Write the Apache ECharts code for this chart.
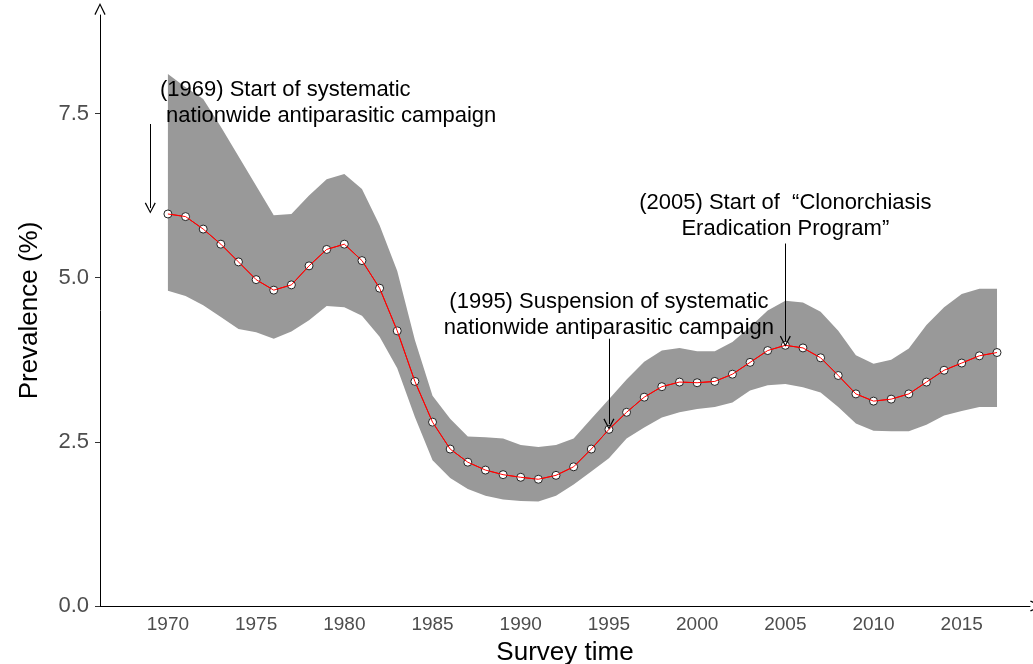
<!DOCTYPE html>
<html lang="en">
<head>
<meta charset="UTF-8">
<title>Prevalence</title>
<script src="https://cdn.jsdelivr.net/npm/echarts@6/dist/echarts.min.js"></script>
<style>
  html, body { margin: 0; padding: 0; background: #fff; }
  #main { width: 1033px; height: 664px; }
</style>
</head>
<body>
<div id="main"></div>
<script>
// survey years and estimates
var years = [1970, 1971, 1972, 1973, 1974, 1975, 1976, 1977, 1978, 1979,
             1980, 1981, 1982, 1983, 1984, 1985, 1986, 1987, 1988, 1989,
             1990, 1991, 1992, 1993, 1994, 1995, 1996, 1997, 1998, 1999,
             2000, 2001, 2002, 2003, 2004, 2005, 2006, 2007, 2008, 2009,
             2010, 2011, 2012, 2013, 2014, 2015, 2016, 2017];
var prevalence = [5.97, 5.93, 5.74, 5.51, 5.24, 4.97, 4.81, 4.89, 5.18, 5.43,
                  5.51, 5.26, 4.84, 4.19, 3.42, 2.80, 2.39, 2.19, 2.07, 2.00,
                  1.96, 1.93, 1.99, 2.12, 2.39, 2.69, 2.95, 3.18, 3.34, 3.41,
                  3.40, 3.42, 3.53, 3.71, 3.89, 3.97, 3.93, 3.78, 3.51, 3.23,
                  3.12, 3.15, 3.23, 3.41, 3.59, 3.70, 3.81, 3.86];
var upperCI = [8.10, 7.90, 7.72, 7.30, 6.85, 6.40, 5.95, 5.97, 6.25, 6.50,
               6.58, 6.35, 5.80, 5.10, 4.05, 3.20, 2.85, 2.58, 2.57, 2.55,
               2.45, 2.42, 2.45, 2.55, 2.85, 3.15, 3.45, 3.72, 3.89, 3.93,
               3.88, 3.88, 4.02, 4.25, 4.50, 4.65, 4.62, 4.48, 4.19, 3.82,
               3.69, 3.75, 3.92, 4.28, 4.55, 4.75, 4.83, 4.83];
var lowerCI = [4.80, 4.72, 4.58, 4.40, 4.22, 4.17, 4.07, 4.18, 4.35, 4.57,
               4.55, 4.42, 4.10, 3.62, 2.88, 2.22, 1.95, 1.78, 1.68, 1.62,
               1.60, 1.59, 1.68, 1.85, 2.05, 2.25, 2.55, 2.72, 2.87, 2.95,
               3.00, 3.03, 3.10, 3.28, 3.36, 3.38, 3.33, 3.25, 3.03, 2.78,
               2.67, 2.66, 2.66, 2.76, 2.90, 2.97, 3.03, 3.03];
var xTicks = [1970, 1975, 1980, 1985, 1990, 1995, 2000, 2005, 2010, 2015];
var yTicks = [0, 2.5, 5, 7.5];

// annotation events: [year, arrow start, arrow end]
var eventArrows = [[1969, 7.34, 6.06], [1995, 4.07, 2.77], [2005, 5.52, 4.03]];

var chevron = 'path://M5,0 L10,10 L9,10.7 L5,2.2 L1,10.7 L0,10 Z';
var font = 'Liberation Sans';

var myChart = echarts.init(document.getElementById('main'));

var bandData = years.map(function (y, i) { return [y, lowerCI[i], upperCI[i]]; });
var midData = years.map(function (y, i) { return [y, prevalence[i]]; });

// whole ribbon drawn as one polygon: upper edge forward, lower edge back
function renderBand(params, api) {
    if (params.dataIndex !== 0) return null;
    var n = years.length;
    var pts = [];
    for (var j = 0; j < n; j++) {
        pts.push(api.coord([api.value(0, j), api.value(2, j)]));
    }
    for (var k = n - 1; k >= 0; k--) {
        pts.push(api.coord([api.value(0, k), api.value(1, k)]));
    }
    return {
        type: 'polygon',
        shape: { points: pts },
        style: { fill: '#999999', stroke: null }
    };
}

var option = {
    animation: false,
    textStyle: { fontFamily: font },
    grid: { left: 100, right: 3, top: 15, bottom: 58, outerBoundsMode: 'none', containLabel: false },
    xAxis: {
        type: 'value',
        min: 1966.15,
        max: 2018.87,
        name: 'Survey time',
        nameLocation: 'middle',
        nameGap: 34,
        nameTextStyle: { fontSize: 26, color: '#000', fontFamily: font },
        axisLine: {
            show: true,
            lineStyle: { color: '#000', width: 1 },
            symbol: ['none', chevron],
            symbolSize: [14, 12],
            symbolOffset: [0, 6]
        },
        axisTick: { show: false },
        axisLabel: {
            customValues: xTicks,
            color: '#4d4d4d',
            fontSize: 19,
            margin: 9,
            formatter: function (v) { return String(v); }
        },
        splitLine: { show: false }
    },
    yAxis: {
        type: 'value',
        min: 0,
        max: 9,
        name: 'Prevalence (%)',
        nameLocation: 'middle',
        nameGap: 57,
        nameTextStyle: { fontSize: 26, color: '#000', fontFamily: font },
        axisLine: {
            show: true,
            lineStyle: { color: '#000', width: 1 },
            symbol: ['none', chevron],
            symbolSize: [14, 12],
            symbolOffset: [0, 6]
        },
        axisTick: {
            customValues: yTicks,
            length: 5,
            lineStyle: { color: '#333' }
        },
        axisLabel: {
            customValues: yTicks,
            color: '#4d4d4d',
            fontSize: 22,
            margin: 11,
            formatter: function (v) { return v.toFixed(1); }
        },
        splitLine: { show: false }
    },
    series: [
        {
            type: 'custom',
            data: bandData,
            renderItem: renderBand,
            encode: { x: 0, y: [1, 2] },
            silent: true,
            z: 1
        },
        {
            type: 'line',
            data: midData,
            symbol: 'circle',
            symbolSize: 8,
            itemStyle: { color: '#ffffff', borderColor: '#222', borderWidth: 1 },
            lineStyle: { color: '#ff0000', width: 1 },
            z: 2,
            markLine: {
                silent: true,
                symbol: ['none', chevron],
                symbolSize: [11, 11],
                label: { show: false },
                lineStyle: { color: '#000', width: 1, type: 'solid' },
                data: eventArrows.map(function (a) {
                    return [{ coord: [a[0], a[1]] }, { coord: [a[0], a[2]] }];
                })
            },
            markPoint: {
                silent: true,
                symbol: 'circle',
                symbolSize: 0,
                label: {
                    show: true,
                    position: 'inside',
                    color: '#000',
                    fontSize: 22,
                    lineHeight: 26,
                    fontFamily: font
                },
                data: [
                    {
                        coord: [1969.55, 7.66],
                        label: { align: 'left', formatter: '(1969) Start of systematic\n nationwide antiparasitic campaign' }
                    },
                    {
                        coord: [1995, 4.44],
                        label: { align: 'center', formatter: '(1995) Suspension of systematic\nnationwide antiparasitic campaign' }
                    },
                    {
                        coord: [2005, 5.94],
                        label: { align: 'center', formatter: '(2005) Start of  \u201cClonorchiasis\nEradication Program\u201d' }
                    }
                ]
            }
        },
        {
            type: 'line',
            data: midData,
            symbol: 'none',
            silent: true,
            lineStyle: { color: '#ff0000', width: 1 },
            z: 3
        }
    ]
};

myChart.setOption(option);
</script>
</body>
</html>
